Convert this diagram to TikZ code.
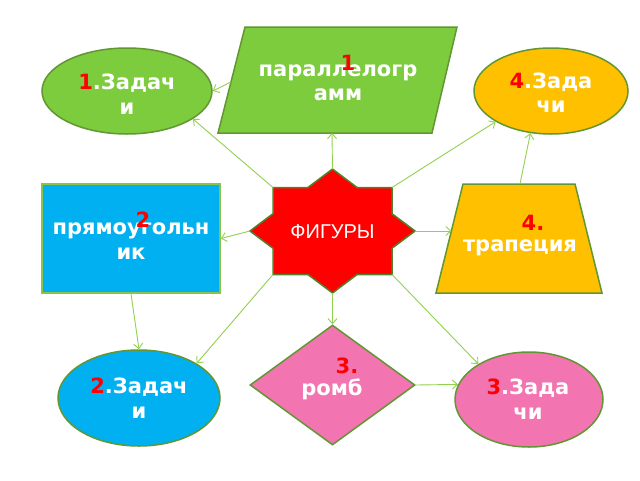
\documentclass[tikz,border=0pt]{standalone}
\usepackage{fontspec}
\setmainfont{DejaVu Sans}
\newfontfamily\figfont{Liberation Sans}
\usetikzlibrary{shapes.geometric,arrows.meta}
\definecolor{gfill}{RGB}{124,204,62}
\definecolor{ofill}{RGB}{255,192,0}
\definecolor{bfill}{RGB}{0,176,240}
\definecolor{pfill}{RGB}{242,116,176}
\definecolor{edgec}{RGB}{98,150,50}
\definecolor{conn}{RGB}{146,208,80}
\definecolor{num}{RGB}{255,0,0}
\begin{document}
\begin{tikzpicture}[x=1pt,y=-1pt,
  shapeline/.style={draw=edgec, line width=1.5pt},
  ell/.style={ellipse, shapeline, inner sep=0pt},
  lbl/.style={text=white, font=\fontsize{21}{24.5}\selectfont\bfseries, align=center, inner sep=0pt},
  numlbl/.style={text=num, font=\fontsize{21}{24.5}\selectfont\bfseries, inner sep=0pt},
  link/.style={draw=conn, line width=0.9pt, -{Straight Barb[length=5pt,width=9pt]}}
]
\useasboundingbox (0,0) rectangle (640,480);
\fill[white] (0,0) rectangle (640,480);

% ellipses
\node[ell, fill=gfill, minimum width=170pt, minimum height=86pt] (z1) at (127,91) {};
\node[ell, fill=ofill, minimum width=154pt, minimum height=86pt] (z4) at (551,91) {};
\node[ell, fill=bfill, minimum width=162pt, minimum height=96pt] (z2) at (139,398) {};
\node[ell, fill=pfill, minimum width=148pt, minimum height=95pt] (z3) at (529,399.5) {};

% rectangle
\node[draw=conn!80!edgec, line width=1.5pt, fill=bfill, minimum width=178pt, minimum height=109pt, inner sep=0pt] (rect) at (131,238.5) {};

% rhombus
\node[diamond, shapeline, fill=pfill, minimum width=165pt, minimum height=120pt, inner sep=0pt] (rh) at (332.5,385) {};

% parallelogram
\draw[shapeline, fill=gfill] (245,27) -- (457,27) -- (432,133) -- (218,133) -- cycle;
\coordinate (parB) at (332,133);
\coordinate (parL) at (231,82);

% trapezoid
\draw[shapeline, fill=ofill] (463,184) -- (575,184) -- (602,293) -- (436,293) -- cycle;
\coordinate (trL) at (451.5,231);
\coordinate (trT) at (520,184);

% star
\coordinate (sT) at (332.5,169);
\coordinate (sL) at (250,231);
\coordinate (sR) at (415,231);
\coordinate (sB) at (332.5,293);
\coordinate (sUL) at (273,187.5);
\coordinate (sUR) at (392,187.5);
\coordinate (sLL) at (273,274.5);
\coordinate (sLR) at (392,274.5);
\draw[shapeline, draw=edgec!85!black, fill=red]
  (sT) -- (307.9,187.5) -- (sUL) -- (273,213.7) -- (sL) -- (273,248.3) -- (sLL)
  -- (307.9,274.5) -- (sB) -- (357.1,274.5) -- (sLR) -- (392,248.3) -- (sR)
  -- (392,213.7) -- (sUR) -- (357.1,187.5) -- cycle;
\node[text=white, font=\figfont\fontsize{20}{24}\selectfont, inner sep=0pt] (fig) at (332.5,232) {ФИГУРЫ};

% connectors
\draw[link] (sT) -- (parB);
\draw[link] (parL) -- (z1.east);
\draw[link] (sUL) -- (z1.-23.7);
\draw[link] (sL) -- (rect.east);
\draw[link] (rect.south) -- (z2.north);
\draw[link] (sLL) -- (z2.31.8);
\draw[link] (sB) -- (rh.north);
\draw[link] (rh.east) -- (z3.168.4);
\draw[link] (sLR) -- (z3.145.3);
\draw[link] (sR) -- (trL);
\draw[link] (trT) -- (z4.-116.9);
\draw[link] (sUR) -- (z4.-151);

% labels
\node[lbl] (t1) at (127,94) {\textcolor{num}{1}.Задач\\и};
\node[lbl] (t4) at (551,92.5) {\textcolor{num}{4}.Зада\\чи};
\node[lbl] (t2) at (139,398) {\textcolor{num}{2}.Задач\\и};
\node[lbl] (t3) at (528,399) {\textcolor{num}{3}.Зада\\чи};
\node[lbl] (tpar) at (338,83) {параллелогр\\амм};
\node[numlbl] (n1) at (348,63) {1};
\node[lbl] (trect) at (131,241) {прямоугольн\\ик};
\node[numlbl] (n2) at (143,220) {2};
\node[lbl] (ttr) at (520,248) {трапеция};
\node[numlbl] (n4) at (533,223) {4.};
\node[lbl] (trh) at (332,389) {ромб};
\node[numlbl] (n3) at (347,366) {3.};
\end{tikzpicture}
\end{document}
